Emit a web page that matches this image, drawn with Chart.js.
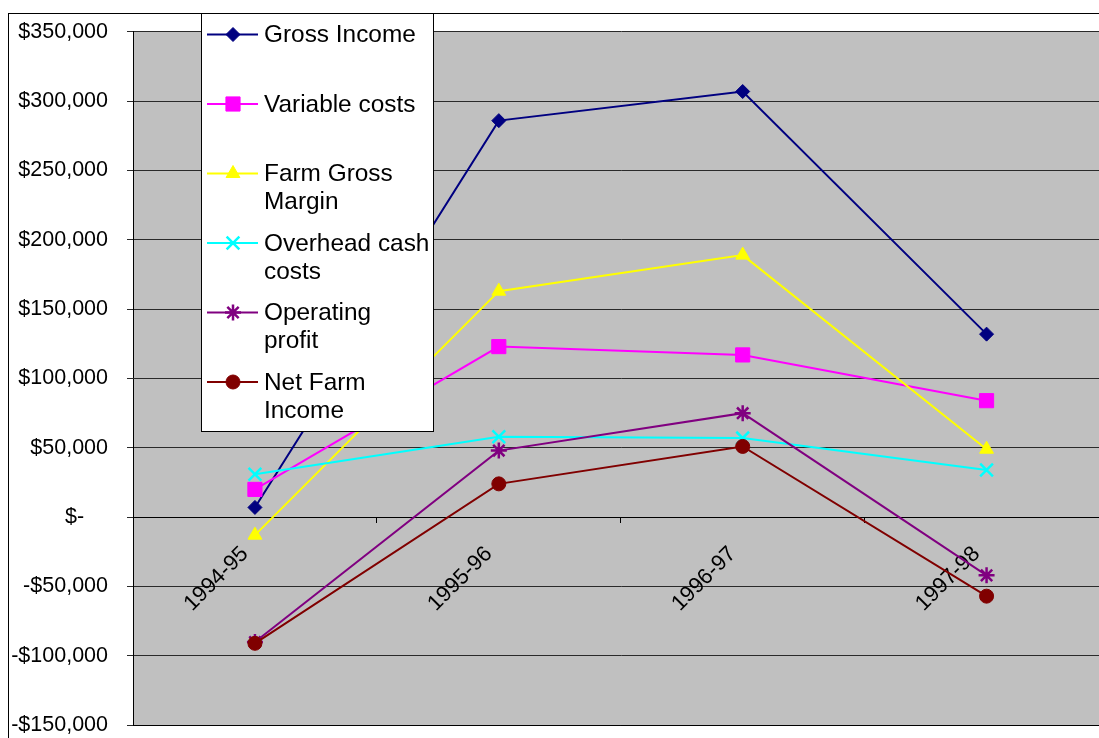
<!DOCTYPE html>
<html>
<head>
<meta charset="utf-8">
<script src="https://cdn.jsdelivr.net/npm/chart.js"></script>
<style>
  html, body { margin: 0; padding: 0; background: #fff; overflow: hidden; }
  #wrap { position: relative; width: 1099px; height: 738px; overflow: hidden; }
</style>
</head>
<body>
<div id="wrap"><canvas id="c" width="1120" height="757"></canvas></div>
<script>
const categories = ['1994-95', '1995-96', '1996-97', '1997-98'];
const seriesNames = ['Gross Income', 'Variable costs', 'Farm Gross Margin', 'Overhead cash costs', 'Operating profit', 'Net Farm Income'];
const legendLines = [['Gross Income'], ['Variable costs'], ['Farm Gross', 'Margin'], ['Overhead cash', 'costs'], ['Operating', 'profit'], ['Net Farm', 'Income']];
const grossIncome = [7000, 286000, 307000, 132000];
const variableCosts = [20000, 123000, 117000, 84000];
const farmGrossMargin = [-13000, 163000, 189000, 49000];
const overheadCashCosts = [31000, 58000, 57000, 34000];
const operatingProfit = [-90000, 48000, 75000, -42000];
const netFarmIncome = [-91000, 24000, 51000, -57000];
const yMin = -150000, yMax = 350000, yStep = 50000;

const seriesValues = [grossIncome, variableCosts, farmGrossMargin, overheadCashCosts, operatingProfit, netFarmIncome];
const colors = ['#000080', '#FF00FF', '#FFFF00', '#00FFFF', '#800080', '#800000'];
const pointStyles = ['rectRot', 'rect', 'triangle', 'crossRot', 'star', 'circle'];
const pointRadii = [7, 10, 8, 9, 8, 7];
const pointBorders = [1, 1, 1, 2.5, 2.5, 1];

const FONT = 'Arial, "Liberation Sans", sans-serif';

const datasets = seriesValues.map((vals, i) => ({
  label: seriesNames[i],
  data: vals,
  borderColor: colors[i],
  backgroundColor: colors[i],
  borderWidth: 2,
  pointStyle: pointStyles[i],
  pointRadius: pointRadii[i],
  pointHoverRadius: pointRadii[i],
  pointBorderWidth: pointBorders[i],
  pointBorderColor: colors[i],
  pointBackgroundColor: colors[i],
  fill: false,
  tension: 0,
  order: seriesValues.length - 1 - i
}));

function fmt(v) {
  if (v === 0) return '$-    ';
  const s = '$' + Math.abs(v).toLocaleString('en-US');
  return v < 0 ? '-' + s : s;
}

const framePlugin = {
  id: 'frame',
  beforeDraw(chart) {
    const { ctx, chartArea: a } = chart;
    ctx.save();
    ctx.fillStyle = '#fff';
    ctx.fillRect(0, 0, chart.width, chart.height);
    ctx.strokeStyle = '#000';
    ctx.lineWidth = 1;
    ctx.strokeRect(8.5, 13.5, chart.width + 20, chart.height + 20);
    ctx.fillStyle = '#C0C0C0';
    ctx.fillRect(a.left, a.top, a.right - a.left, a.bottom - a.top);
    ctx.restore();
  },
  afterDatasetsDraw(chart) {
    const { ctx, chartArea: a } = chart;
    ctx.save();
    ctx.strokeStyle = '#000';
    ctx.lineWidth = 1;
    ctx.beginPath();
    ctx.moveTo(a.left, Math.round(a.bottom) + 0.5);
    ctx.lineTo(a.right, Math.round(a.bottom) + 0.5);
    ctx.stroke();
    ctx.restore();
  },
  afterDraw(chart) {
    const ctx = chart.ctx;
    ctx.save();
    const L = 201.5, T = 13.5, R = 433.5, B = 431.5;
    ctx.fillStyle = '#fff';
    ctx.fillRect(L, T, R - L, B - T);
    ctx.strokeStyle = '#000';
    ctx.lineWidth = 1;
    ctx.strokeRect(L, T, R - L, B - T);
    chart.data.datasets.forEach((ds, i) => {
      const y = 34.5 + i * 69.5;
      ctx.strokeStyle = ds.borderColor;
      ctx.lineWidth = 2;
      ctx.beginPath();
      ctx.moveTo(207, y);
      ctx.lineTo(258, y);
      ctx.stroke();
      ctx.fillStyle = ds.backgroundColor;
      ctx.strokeStyle = ds.borderColor;
      ctx.lineWidth = ds.pointBorderWidth;
      Chart.helpers.drawPoint(ctx, { pointStyle: ds.pointStyle, radius: ds.pointRadius, rotation: 0, borderWidth: ds.pointBorderWidth }, 233, y);
      ctx.fillStyle = '#000';
      ctx.font = '24.4px ' + FONT;
      ctx.textAlign = 'left';
      ctx.textBaseline = 'middle';
      legendLines[i].forEach((t, k) => ctx.fillText(t, 264, y + 1 + k * 28));
    });
    ctx.restore();
  }
};

new Chart(document.getElementById('c'), {
  type: 'line',
  data: { labels: categories, datasets },
  plugins: [framePlugin],
  options: {
    responsive: false,
    animation: false,
    events: [],
    layout: { padding: { top: 31, bottom: 14, left: 0, right: 11 } },
    plugins: { legend: { display: false }, tooltip: { enabled: false } },
    scales: {
      y: {
        min: yMin, max: yMax,
        afterFit(s) { s.width = 133; },
        ticks: {
          stepSize: yStep,
          padding: 19,
          color: '#000',
          font: { family: FONT, size: 21.5 },
          callback: (v) => fmt(v)
        },
        grid: { color: '#2a2a2a', lineWidth: 1, tickLength: 6, drawTicks: true },
        border: { display: true, color: '#000', width: 1 }
      },
      x: {
        type: 'category',
        position: { y: 0 },
        offset: true,
        afterFit(s) { s.height = 0; },
        ticks: {
          autoSkip: false,
          maxRotation: 45, minRotation: 45,
          padding: 19,
          labelOffset: -10,
          color: '#000',
          font: { family: FONT, size: 22 }
        },
        grid: { drawOnChartArea: false, offset: true, tickLength: 5, color: '#000', drawTicks: true },
        border: { display: true, color: '#000', width: 1 }
      }
    }
  }
});
</script>
</body>
</html>
